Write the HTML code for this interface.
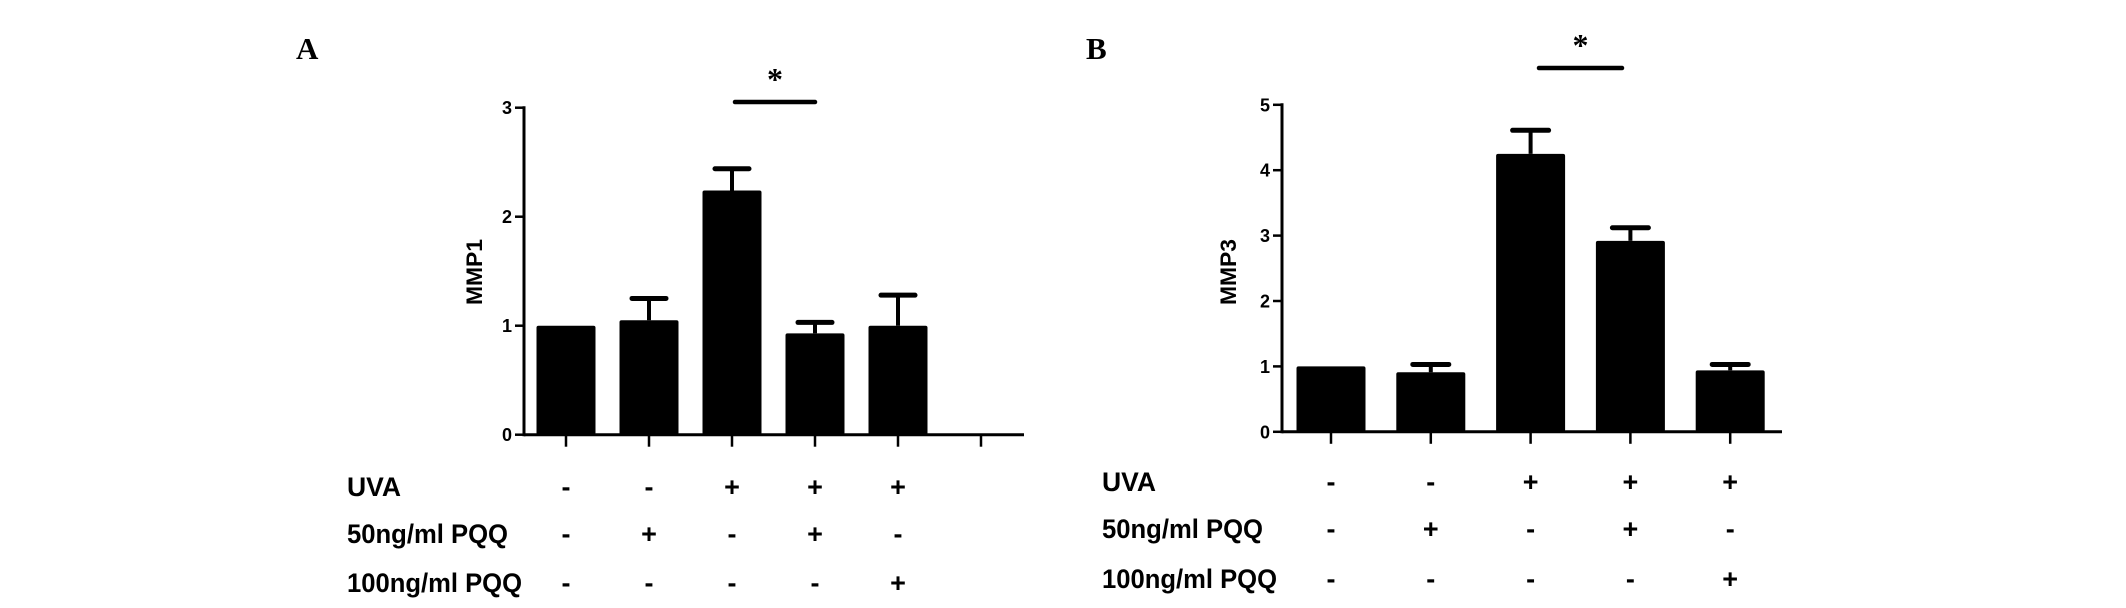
<!DOCTYPE html>
<html><head><meta charset="utf-8"><style>
html,body{margin:0;padding:0;background:#fff;}
svg{display:block;}
text{font-family:"Liberation Sans",Arial,sans-serif;font-weight:bold;fill:#000;}
</style></head><body>
<svg id="fig" width="2126" height="608" viewBox="0 0 2126 608" xmlns="http://www.w3.org/2000/svg">
<text x="296" y="59" style="font-family:'Liberation Serif',serif;font-size:31px">A</text>
<text x="1086" y="59" style="font-family:'Liberation Serif',serif;font-size:31px">B</text>
<g id="chartA"></g>
<g id="chartB"></g>
</svg>
<script>
const aValues=[1.0,1.05,2.24,0.93,1.0];
const aErrors=[0.0,0.20,0.20,0.10,0.28];
const aTicks=[0,1,2,3];
const bValues=[1.0,0.91,4.25,2.92,0.94];
const bErrors=[0.0,0.12,0.36,0.20,0.09];
const bTicks=[0,1,2,3,4,5];
const uvaSigns=['-','-','+','+','+'];
const pqq50Signs=['-','+','-','+','-'];
const pqq100Signs=['-','-','-','-','+'];
const rowLabels=['UVA','50ng/ml PQQ','100ng/ml PQQ'];

const NS='http://www.w3.org/2000/svg';
function mk(parent,tag,attrs){const e=document.createElementNS(NS,tag);for(const k in attrs)e.setAttribute(k,attrs[k]);parent.appendChild(e);return e;}

function drawChart(g,cfg){
  const yScale=v=>cfg.y0-(v-cfg.ymin)/(cfg.ymax-cfg.ymin)*(cfg.y0-cfg.ytop);
  const xScale=i=>cfg.x0+cfg.step*i;
  const ya=mk(g,'line',{x1:cfg.ax,y1:yScale(cfg.ymax)-1.5,x2:cfg.ax,y2:cfg.y0+1.5,stroke:'#000','stroke-width':3});
  
  
  const xa=mk(g,'line',{x1:cfg.ax,y1:cfg.y0,x2:cfg.xend,y2:cfg.y0,stroke:'#000','stroke-width':3});
  
  
  cfg.ticks.forEach(t=>{
    const y=yScale(t);
    const tl=mk(g,'line',{x1:cfg.ax-9,y1:y,x2:cfg.ax,y2:y,stroke:'#000','stroke-width':2.5});
    
    
    const tx=mk(g,'text',{x:cfg.ax-12,y:y+6.5,'text-anchor':'end','font-size':18});
    tx.textContent=String(t);
    
    
  });
  for(let i=0;i<cfg.nTicks;i++){
    const x=xScale(i);
    const xt=mk(g,'line',{x1:x,y1:cfg.y0,x2:x,y2:cfg.y0+12,stroke:'#000','stroke-width':2.5});
    
    
  }
  const title=mk(g,'text',{x:0,y:0,'text-anchor':'middle','font-size':22,transform:`translate(${cfg.titleX},272) rotate(-90)`,textLength:66,lengthAdjust:'spacingAndGlyphs'});
  title.textContent=cfg.title;
  
  
  cfg.values.forEach((v,i)=>{
    const cx=xScale(i);
    const top=yScale(v);
    const b=mk(g,'rect',{x:cx-cfg.bw/2,y:top,width:cfg.bw,height:cfg.y0-top,fill:'#000',rx:2});
    
    
    const e=cfg.errors[i];
    if(e>0){
      const et=yScale(v+e);
      const el=mk(g,'line',{x1:cx,y1:top,x2:cx,y2:et,stroke:'#000','stroke-width':4});
      
      
      const ec=mk(g,'line',{x1:cx-cfg.cap/2,y1:et,x2:cx+cfg.cap/2,y2:et,stroke:'#000','stroke-width':5,'stroke-linecap':'round'});
      
      
    }
  });
  const s=mk(g,'line',{x1:cfg.sig[0],y1:cfg.sig[2],x2:cfg.sig[1],y2:cfg.sig[2],stroke:'#000','stroke-width':4.5,'stroke-linecap':'round'});
  
  
  const st=mk(g,'text',{x:(cfg.sig[0]+cfg.sig[1])/2,y:cfg.sig[2]-12,'text-anchor':'middle','font-size':32,style:"font-family:'Liberation Serif',serif;font-weight:bold"});
  st.textContent='*';
  
  
  const rows=[uvaSigns,pqq50Signs,pqq100Signs];
  const widths=[54,161,175];
  rows.forEach((signs,r)=>{
    const yc=cfg.rowY[r];
    const lb=mk(g,'text',{x:cfg.labelX,y:yc+10,'font-size':27,textLength:widths[r],lengthAdjust:'spacingAndGlyphs'});
    lb.textContent=rowLabels[r];
    
    
    signs.forEach((sg,i)=>{
      const t=mk(g,'text',{x:xScale(i),y:yc+10,'text-anchor':'middle','font-size':27});
      t.textContent=sg;
      
      
    });
  });
}
drawChart(document.getElementById('chartA'),{values:aValues,errors:aErrors,ticks:aTicks,ymin:0,ymax:3,y0:434.7,ytop:107.7,ax:524,xend:1024,x0:566,step:83,nTicks:6,bw:59,cap:34,title:'MMP1',titleX:482,sig:[735,815,102],rowY:[486,533,582],labelX:347});
drawChart(document.getElementById('chartB'),{values:bValues,errors:bErrors,ticks:bTicks,ymin:0,ymax:5,y0:431.8,ytop:104.8,ax:1282,xend:1782,x0:1331,step:99.8,nTicks:5,bw:69,cap:36,title:'MMP3',titleX:1236,sig:[1539,1622,68],rowY:[481,528,578],labelX:1102});
</script>
</body></html>
